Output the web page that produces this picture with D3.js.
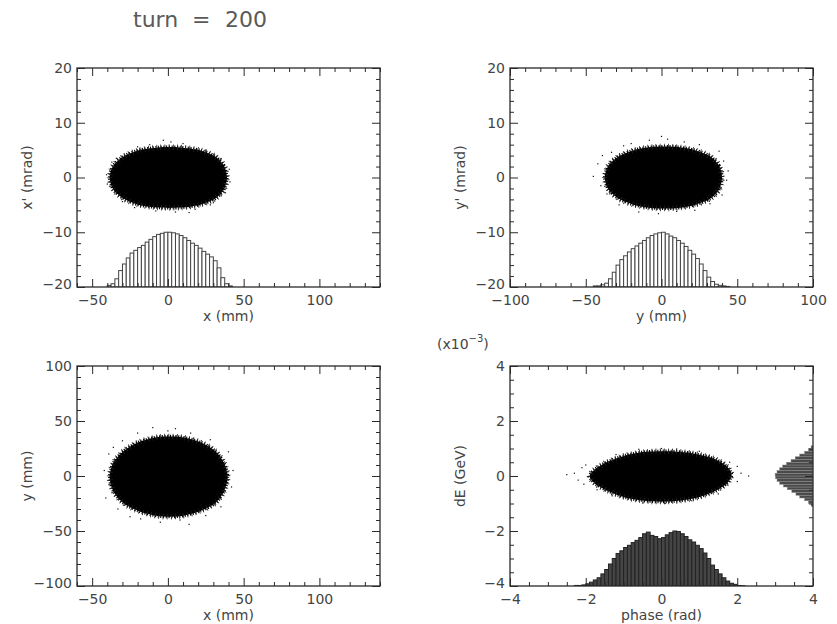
<!DOCTYPE html>
<html>
<head>
<meta charset="utf-8">
<script src="https://cdn.jsdelivr.net/npm/d3@7"></script>
<style>
  html, body { margin: 0; padding: 0; background: #fff; }
  svg { display: block; font-family: "DejaVu Sans", Verdana, sans-serif; }
</style>
</head>
<body>
<svg id="chart" width="837" height="624"></svg>
<script>
// ---------------- data ----------------
const turnLabel = ["turn", "=", "200"];

// tick labels
const xTicksXX = [-50, 0, 50, 100];
const yTicksXX = [-20, -10, 0, 10, 20];
const xTicksYY = [-100, -50, 0, 50, 100];
const yTicksYY = [-20, -10, 0, 10, 20];
const xTicksXY = [-50, 0, 50, 100];
const yTicksXY = [-100, -50, 0, 50, 100];
const xTicksPE = [-4, -2, 0, 2, 4];
const yTicksPE = [-4, -2, 0, 2, 4];

// horizontal beam profile x (mm): bin lower edges, relative counts
const xHistEdges = [-40, -37.5, -35, -32.5, -30, -27.5, -25, -22.5, -20, -17.5, -15, -12.5, -10, -7.5, -5, -2.5,
  0, 2.5, 5, 7.5, 10, 12.5, 15, 17.5, 20, 22.5, 25, 27.5, 30, 32.5, 35, 37.5, 40];
const xHistCounts = [0.03, 0.06, 0.15, 0.30, 0.42, 0.53, 0.62, 0.67, 0.72, 0.76, 0.82, 0.87, 0.92, 0.96, 0.98, 1.0,
  1.0, 0.99, 0.97, 0.94, 0.90, 0.85, 0.80, 0.76, 0.71, 0.65, 0.60, 0.55, 0.48, 0.35, 0.17, 0.06, 0.02];

// vertical beam profile y (mm)
const yHistEdges = [-45, -42.5, -40, -37.5, -35, -32.5, -30, -27.5, -25, -22.5, -20, -17.5, -15, -12.5, -10, -7.5, -5, -2.5,
  0, 2.5, 5, 7.5, 10, 12.5, 15, 17.5, 20, 22.5, 25, 27.5, 30, 32.5, 35, 37.5, 40, 42.5];
const yHistCounts = [0.02, 0.02, 0.04, 0.07, 0.15, 0.27, 0.40, 0.50, 0.57, 0.64, 0.70, 0.75, 0.80, 0.85, 0.90, 0.94, 0.97, 0.99,
  1.0, 0.97, 0.93, 0.90, 0.85, 0.80, 0.74, 0.67, 0.60, 0.52, 0.42, 0.30, 0.18, 0.10, 0.05, 0.03, 0.02, 0.01];

// phase profile (rad)
const phaseHistEdges = [-2.3, -2.2, -2.1, -2.0, -1.9, -1.8, -1.7, -1.6, -1.5, -1.4, -1.3, -1.2, -1.1, -1.0, -0.9, -0.8,
  -0.7, -0.6, -0.5, -0.4, -0.3, -0.2, -0.1, 0.0, 0.1, 0.2, 0.3, 0.4, 0.5, 0.6, 0.7, 0.8, 0.9, 1.0, 1.1, 1.2, 1.3,
  1.4, 1.5, 1.6, 1.7, 1.8, 1.9, 2.0, 2.1];
const phaseHistCounts = [0.01, 0.01, 0.02, 0.04, 0.07, 0.11, 0.15, 0.22, 0.30, 0.40, 0.50, 0.59, 0.64, 0.70, 0.74, 0.79,
  0.83, 0.88, 0.95, 0.98, 0.92, 0.90, 0.86, 0.88, 0.93, 0.97, 1.0, 0.99, 0.95, 0.90, 0.84, 0.80, 0.74, 0.68, 0.60, 0.50,
  0.38, 0.30, 0.22, 0.15, 0.09, 0.05, 0.03, 0.01, 0.005];

// energy profile dE (x10^-3 GeV)
const dEHistEdges = [-1.1, -1.0, -0.9, -0.8, -0.7, -0.6, -0.5, -0.4, -0.3, -0.2, -0.1, 0.0, 0.1, 0.2, 0.3, 0.4, 0.5,
  0.6, 0.7, 0.8, 0.9, 1.0];
const dEHistCounts = [0.05, 0.12, 0.22, 0.35, 0.45, 0.56, 0.68, 0.78, 0.88, 0.95, 0.99, 1.0, 0.95, 0.88, 0.80, 0.70,
  0.58, 0.47, 0.35, 0.22, 0.12, 0.05];

// particle cloud outlines (dense core) and isolated particles outside them
const cloudXX = [[39, 0], [37, 2.2], [31, 3.9], [21, 5.0], [8, 5.5], [-6, 5.5], [-19, 5.0], [-29, 3.9], [-36, 2.2],
  [-38.5, 0], [-36, -2.2], [-29, -3.9], [-19, -5.0], [-6, -5.5], [8, -5.5], [21, -5.0], [31, -3.9], [37, -2.2]];
const straysXX = [[-40.5, 0.5], [-40, -1.2], [41, -0.8], [40.5, 1.5], [2, 6.5], [10, 6.2], [-12, 6.0], [-20, 5.6],
  [25, 5.0], [5, -6.3], [-8, -6.1], [18, -5.8], [30, -4.6], [-30, -4.4], [-34, 3.5], [35, 3.4], [-3, 6.8], [14, -6.4],
  [-22, -5.5], [38, -2.8], [-37, 2.8], [28, -5.0]];

const cloudYY = [[40, 0], [38, 2.2], [32, 3.9], [22, 5.0], [9, 5.6], [-5, 5.6], [-18, 5.0], [-28, 3.9], [-35, 2.2],
  [-37.5, 0], [-35, -2.2], [-28, -3.9], [-18, -5.0], [-5, -5.6], [9, -5.6], [22, -5.0], [32, -3.9], [38, -2.2]];
const straysYY = [[-45, 0.2], [-42, 2.5], [-40, -1.5], [-39, 4], [-33, 4.6], [44, 1.2], [43, -0.5], [41, 3.0], [38, 4.8],
  [0, 7.5], [4, 7.0], [-8, 6.8], [15, 6.5], [25, 6.0], [-20, 6.2], [-2, -6.6], [10, -6.2], [-15, -6.3], [22, -6.0],
  [-28, -5.0], [32, -4.8], [-36, -3.0], [40, -3.2], [-25, 5.8]];

const cloudXY = [[39.5, -1], [37, 12], [31, 23], [21, 31], [8, 35.5], [-6, 35.5], [-19, 31], [-29, 23], [-36, 12],
  [-38.5, -1], [-36, -14], [-29, -25], [-19, -32], [-6, -36.5], [8, -36.5], [21, -32], [31, -25], [37, -14]];
const straysXY = [[-42, 5], [-41, -20], [-39, 20], [43, 5], [42, -10], [40, 22], [-10, 44], [0, 41], [5, 43], [-20, 39],
  [15, 39], [28, 33], [-30, 32], [14, -44], [-5, -42], [-18, -39], [25, -36], [-33, -30], [35, -28], [-36, 26],
  [8, -40], [-25, -37]];

const cloudPE = [[1.85, 0.05], [1.7, 0.38], [1.35, 0.65], [0.8, 0.83], [0.2, 0.9], [-0.4, 0.88], [-0.95, 0.75],
  [-1.45, 0.5], [-1.75, 0.25], [-1.9, 0], [-1.75, -0.28], [-1.4, -0.55], [-0.9, -0.8], [-0.3, -0.92], [0.3, -0.92],
  [0.9, -0.8], [1.4, -0.55], [1.72, -0.28]];
const straysPE = [[-2.5, 0.05], [-2.3, 0.1], [-2.2, -0.15], [-2.1, 0.3], [-2.05, -0.3], [-2.0, 0.4], [2.1, 0.1],
  [2.0, -0.2], [2.0, 0.35], [2.3, 0.0], [0.0, 1.0], [0.4, 0.98], [-0.6, 0.97], [1.0, 0.9], [-1.2, 0.78], [0.1, -1.0],
  [-0.5, -0.98], [0.8, -0.9], [-1.3, -0.72], [1.5, -0.65], [1.8, 0.5], [-1.7, -0.5]];

// ---------------- drawing ----------------
const svg = d3.select("#chart");
const TXT = "#444";
const INK = "#2a2a2a";
const FONT = "DejaVu Sans, Verdana, sans-serif";

// title
const title = svg.append("text").attr("y", 27).attr("font-size", 22)
  .attr("fill", "#5a5a5a").attr("font-family", FONT);
[133, 192, 225].forEach((px, i) => title.append("tspan").attr("x", px).text(turnLabel[i]));

const panels = [
  { id: "xx", left: 77, top: 68, w: 303, h: 219, xDomain: [-60, 140], yDomain: [-20, 20],
    xTicks: xTicksXX, yTicks: yTicksXX, xMinor: 10, yMinor: 2, xTitle: "x (mm)", yTitle: "x' (mrad)",
    cloud: cloudXX, strays: straysXX,
    hist: { edges: xHistEdges, counts: xHistCounts, width: 2.5, base: -20, peak: -10, fill: "#fff", stroke: "#444" } },
  { id: "yy", left: 510, top: 68, w: 303, h: 219, xDomain: [-100, 100], yDomain: [-20, 20],
    xTicks: xTicksYY, yTicks: yTicksYY, xMinor: 10, yMinor: 2, xTitle: "y (mm)", yTitle: "y' (mrad)",
    cloud: cloudYY, strays: straysYY,
    hist: { edges: yHistEdges, counts: yHistCounts, width: 2.5, base: -20, peak: -10, fill: "#fff", stroke: "#444" } },
  { id: "xy", left: 77, top: 366, w: 303, h: 220, xDomain: [-60, 140], yDomain: [-100, 100],
    xTicks: xTicksXY, yTicks: yTicksXY, xMinor: 10, yMinor: 10, xTitle: "x (mm)", yTitle: "y (mm)",
    cloud: cloudXY, strays: straysXY },
  { id: "pe", left: 510, top: 366, w: 303, h: 220, xDomain: [-4, 4], yDomain: [-4, 4],
    xTicks: xTicksPE, yTicks: yTicksPE, xMinor: 0.5, yMinor: 0.5, xTitle: "phase (rad)", yTitle: "dE (GeV)",
    cloud: cloudPE, strays: straysPE,
    hist: { edges: phaseHistEdges, counts: phaseHistCounts, width: 0.1, base: -4, peak: -2, fill: "#454545", stroke: "#222" },
    sideHist: { edges: dEHistEdges, counts: dEHistCounts, width: 0.1, base: 4, peak: 3, fill: "#4a4a4a", stroke: "#8a8a8a" } }
];

function minorTicks(domain, step, majors) {
  return d3.range(domain[0], domain[1] + step / 2, step)
    .map(v => +v.toFixed(6))
    .filter(v => !majors.some(m => Math.abs(m - v) < 1e-6));
}

panels.forEach(p => {
  const g = svg.append("g").attr("transform", `translate(${p.left},${p.top})`);
  const x = d3.scaleLinear().domain(p.xDomain).range([0, p.w]);
  const y = d3.scaleLinear().domain(p.yDomain).range([p.h, 0]);

  g.append("clipPath").attr("id", "clip-" + p.id)
    .append("rect").attr("width", p.w).attr("height", p.h);
  const plot = g.append("g").attr("clip-path", `url(#clip-${p.id})`);

  // profile histogram along the horizontal axis
  if (p.hist) {
    const hy = d3.scaleLinear().domain([0, 1]).range([y(p.hist.base), y(p.hist.peak)]);
    plot.append("g").selectAll("rect").data(p.hist.edges)
      .join("rect")
      .attr("x", d => x(d))
      .attr("width", d => x(d + p.hist.width) - x(d))
      .attr("y", (d, i) => hy(p.hist.counts[i]))
      .attr("height", (d, i) => hy(0) - hy(p.hist.counts[i]))
      .attr("fill", p.hist.fill)
      .attr("stroke", p.hist.stroke)
      .attr("stroke-width", 1);
  }
  // profile histogram along the vertical axis, hanging from the right edge
  if (p.sideHist) {
    const hx = d3.scaleLinear().domain([0, 1]).range([x(p.sideHist.base), x(p.sideHist.peak)]);
    plot.append("g").selectAll("rect").data(p.sideHist.edges)
      .join("rect")
      .attr("y", d => y(d + p.sideHist.width))
      .attr("height", d => y(d) - y(d + p.sideHist.width))
      .attr("x", (d, i) => hx(p.sideHist.counts[i]))
      .attr("width", (d, i) => hx(0) - hx(p.sideHist.counts[i]))
      .attr("fill", p.sideHist.fill)
      .attr("stroke", p.sideHist.stroke)
      .attr("stroke-width", 0.5);
  }

  // particle cloud: dense core plus a speckled rim
  const outline = d3.line().x(d => x(d[0])).y(d => y(d[1])).curve(d3.curveCardinalClosed.tension(0.2));
  plot.append("path").attr("d", outline(p.cloud)).attr("fill", "#000");
  plot.append("path").attr("d", outline(p.cloud))
    .attr("fill", "none").attr("stroke", "#000").attr("stroke-width", 3.2)
    .attr("stroke-dasharray", "1.1 1.6");
  plot.append("path").attr("d", outline(p.cloud))
    .attr("fill", "none").attr("stroke", "#222").attr("stroke-width", 5.5)
    .attr("stroke-dasharray", "0.8 3.3").attr("stroke-dashoffset", 1.7);
  plot.append("g").selectAll("rect").data(p.strays)
    .join("rect")
    .attr("x", d => x(d[0]) - 0.6).attr("y", d => y(d[1]) - 0.6)
    .attr("width", 1.2).attr("height", 1.2).attr("fill", "#111");

  // frame
  g.append("rect").attr("width", p.w).attr("height", p.h)
    .attr("fill", "none").attr("stroke", INK).attr("stroke-width", 1.3);

  const xMin = minorTicks(p.xDomain, p.xMinor, p.xTicks);
  const yMin = minorTicks(p.yDomain, p.yMinor, p.yTicks);

  const styleAxis = sel => {
    sel.select(".domain").remove();
    sel.selectAll(".tick line").attr("stroke", INK).attr("stroke-width", 1);
    sel.selectAll(".tick text").attr("fill", TXT).attr("font-size", 14).attr("font-family", FONT);
  };

  // bottom
  g.append("g").attr("transform", `translate(0,${p.h})`)
    .call(d3.axisBottom(x).tickValues(p.xTicks).tickSize(-8).tickPadding(8)).call(styleAxis);
  g.append("g").attr("transform", `translate(0,${p.h})`)
    .call(d3.axisBottom(x).tickValues(xMin).tickSize(-4).tickFormat("")).call(styleAxis);
  // top
  g.append("g").call(d3.axisTop(x).tickValues(p.xTicks).tickSize(-8).tickFormat("")).call(styleAxis);
  g.append("g").call(d3.axisTop(x).tickValues(xMin).tickSize(-4).tickFormat("")).call(styleAxis);
  // left (lowest label lifted a touch so it clears the corner label below)
  g.append("g").call(d3.axisLeft(y).tickValues(p.yTicks).tickSize(-8).tickPadding(5)).call(styleAxis)
    .selectAll(".tick text").filter(d => d === p.yDomain[0]).attr("y", -3);
  g.append("g").call(d3.axisLeft(y).tickValues(yMin).tickSize(-4).tickFormat("")).call(styleAxis);
  // right
  g.append("g").attr("transform", `translate(${p.w},0)`)
    .call(d3.axisRight(y).tickValues(p.yTicks).tickSize(-8).tickFormat("")).call(styleAxis);
  g.append("g").attr("transform", `translate(${p.w},0)`)
    .call(d3.axisRight(y).tickValues(yMin).tickSize(-4).tickFormat("")).call(styleAxis);

  // axis titles
  g.append("text").attr("x", p.w / 2).attr("y", p.h + 34)
    .attr("text-anchor", "middle").attr("font-size", 14).attr("fill", TXT).attr("font-family", FONT)
    .text(p.xTitle);
  g.append("text").attr("transform", `translate(-45,${p.h / 2}) rotate(-90)`)
    .attr("text-anchor", "middle").attr("font-size", 14).attr("fill", TXT).attr("font-family", FONT)
    .text(p.yTitle);

  if (p.id === "pe") {
    const m = g.append("text").attr("x", -73).attr("y", -17).attr("font-size", 14)
      .attr("fill", TXT).attr("font-family", FONT);
    m.append("tspan").text("(x10");
    m.append("tspan").attr("dy", -7).attr("font-size", 10).text("\u22123");
    m.append("tspan").attr("dy", 7).text(")");
  }
});
</script>
</body>
</html>
